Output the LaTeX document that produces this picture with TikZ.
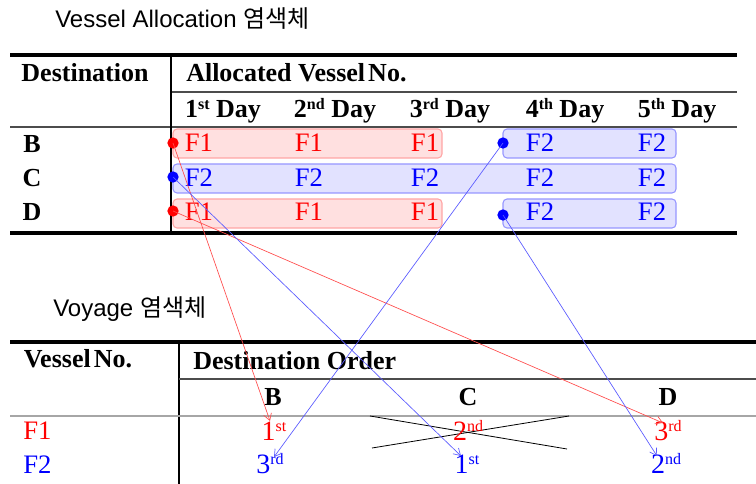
\documentclass[tikz,border=0pt]{standalone}
\usepackage{fontspec}
\setmainfont{Liberation Serif}
\newfontfamily\sansf{Liberation Sans}
\newfontfamily\krf{Noto Sans CJK KR}
\usetikzlibrary{arrows.meta}
\newcommand\sps[1]{\raisebox{6.5pt}{\fontsize{12}{12}\selectfont #1}}
\definecolor{rfill}{RGB}{255,224,224}
\definecolor{rline}{RGB}{255,165,165}
\definecolor{bfill}{RGB}{226,226,255}
\definecolor{bline}{RGB}{150,150,255}
\begin{document}
\begin{tikzpicture}[x=0.75pt,y=-0.75pt,
  ttl/.style={anchor=base west, inner sep=0, font=\sansf\fontsize{18}{18}\selectfont},
  hd/.style={anchor=base, inner sep=0, font=\bfseries\fontsize{19.5}{21}\selectfont},
  hdw/.style={anchor=base west, inner sep=0, font=\bfseries\fontsize{19.5}{21}\selectfont},
  cell/.style={anchor=base, inner sep=0, font=\fontsize{20}{21}\selectfont},
  cellw/.style={anchor=base west, inner sep=0, font=\fontsize{20}{21}\selectfont},
  val/.style={anchor=base, inner sep=0, font=\fontsize{21}{22}\selectfont},
  rbox/.style={draw=rline, fill=rfill, line width=0.8pt, rounded corners=3pt},
  bbox/.style={draw=bline, fill=bfill, line width=0.8pt, rounded corners=3pt},
  dotn/.style={circle, inner sep=0, minimum size=8.5pt},
  thick rule/.style={line width=2.4pt},
  thin rule/.style={line width=0.8pt, gray!60!black},
  conn/.style={-{Straight Barb[length=5pt,width=6pt]}, line width=0.5pt},
  cross/.style={line width=0.6pt, black}
]
\useasboundingbox (0,0) rectangle (756,484);

% titles
\node[ttl] (t1) at (55,28) {Vessel Allocation {\krf 염색체}};
\node[ttl] (t2) at (53,316) {Voyage {\krf 염색체}};

% top table rules
\draw[thick rule] (10,55) -- (737,55);
\draw[thin rule] (171,92) -- (737,92);
\draw[thin rule] (10,127) -- (737,127);
\draw[thick rule] (10,233) -- (737,233);
\draw[line width=0.9pt] (171,55) -- (171,233);

% top table headers
\node[hd] (hdest) at (85,82) {Destination};
\node[hdw] (halloc) at (186,82) {Allocated Vessel\hspace{0.12em}No.};
\node[hd] (d1) at (223,118) {1\sps{st} Day};
\node[hd] (d2) at (335,118) {2\sps{nd} Day};
\node[hd] (d3) at (450,118) {3\sps{rd} Day};
\node[hd] (d4) at (565,118) {4\sps{th} Day};
\node[hd] (d5) at (677,118) {5\sps{th} Day};

\node[hd] (rB) at (32,153) {B};
\node[hd] (rC) at (32,187) {C};
\node[hd] (rD) at (32,221) {D};

% boxes
\draw[rbox] (173,129) rectangle (442,158);
\draw[bbox] (503,129) rectangle (676,158);
\draw[bbox] (173,164) rectangle (676,193);
\draw[rbox] (173,199) rectangle (442,228);
\draw[bbox] (503,199) rectangle (676,228);

% cells
\node[cell, red] (b1) at (199,152) {F1};
\node[cell, red] (b2) at (309,152) {F1};
\node[cell, red] (b3) at (425,152) {F1};
\node[cell, blue] (b4) at (540,152) {F2};
\node[cell, blue] (b5) at (652,152) {F2};
\node[cell, blue] (c1) at (199,187) {F2};
\node[cell, blue] (c2) at (309,187) {F2};
\node[cell, blue] (c3) at (425,187) {F2};
\node[cell, blue] (c4) at (540,187) {F2};
\node[cell, blue] (c5) at (652,187) {F2};
\node[cell, red] (e1) at (199,221) {F1};
\node[cell, red] (e2) at (309,221) {F1};
\node[cell, red] (e3) at (425,221) {F1};
\node[cell, blue] (e4) at (540,221) {F2};
\node[cell, blue] (e5) at (652,221) {F2};

% dots
\node[dotn, fill=red] (dB) at (173,143) {};
\node[dotn, fill=blue] (dC) at (173,177) {};
\node[dotn, fill=red] (dD) at (173,211) {};
\node[dotn, fill=blue] (eB) at (503,143) {};
\node[dotn, fill=blue] (eD) at (503,215) {};

% bottom table rules
\draw[thick rule] (10,342) -- (756,342);
\draw[line width=0.9pt] (179,342) -- (179,484);
\draw[thin rule] (179,379) -- (756,379);
\draw[line width=1.5pt, gray!70] (10,416) -- (756,416);

% bottom headers
\node[hd] (hves) at (78,367) {Vessel\hspace{0.12em}No.};
\node[hdw] (hord) at (193,369) {Destination Order};
\node[hd] (cB) at (273,405) {B};
\node[hd] (cC) at (468,405) {C};
\node[hd] (cD) at (668,405) {D};

\node[cellw, red] (f1) at (23,439) {F1};
\node[cellw, blue] (f2) at (23,473) {F2};

% cross in C cell
\coordinate (x1) at (370,416);
\coordinate (x2) at (567,449);
\coordinate (x3) at (372,448);
\coordinate (x4) at (569,416);
\draw[cross] (x1) -- (x2);
\draw[cross] (x3) -- (x4);

% values
\node[val, red] (v1B) at (274,440) {1\sps{st}};
\node[val, red] (v1C) at (468,440) {2\sps{nd}};
\node[val, red] (v1D) at (668,440) {3\sps{rd}};
\node[val, blue] (v2B) at (270,473) {3\sps{rd}};
\node[val, blue] (v2C) at (467,473) {1\sps{st}};
\node[val, blue] (v2D) at (666,473) {2\sps{nd}};

% arrow tips
\coordinate (a1) at (270,421);
\coordinate (a2) at (663,423);
\coordinate (a3) at (461,456);
\coordinate (a4) at (274,457);
\coordinate (a5) at (657,456);

\draw[conn, red!70] (dB.center) -- (a1);
\draw[conn, red!70] (dD.center) -- (a2);
\draw[conn, blue!65] (dC.center) -- (a3);
\draw[conn, blue!65] (eB.center) -- (a4);
\draw[conn, blue!65] (eD.center) -- (a5);
\end{tikzpicture}
\end{document}
